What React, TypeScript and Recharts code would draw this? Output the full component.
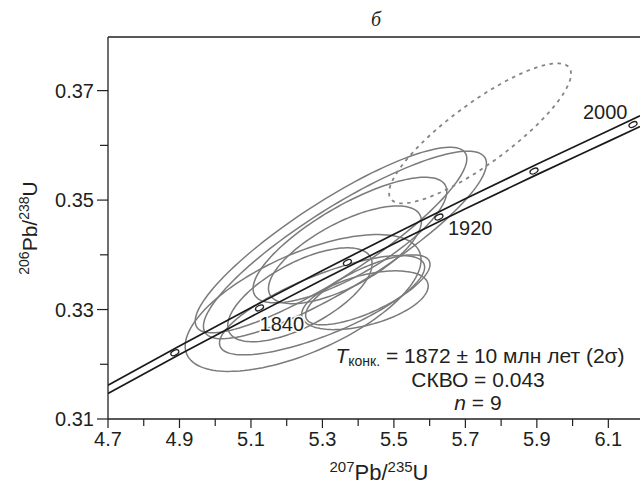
import React from 'react'
import { ScatterChart, Scatter, XAxis, YAxis, ReferenceLine } from 'recharts'

const X_MIN = 4.7
const X_MAX = 6.1886
const Y_MIN = 0.31
const Y_MAX = 0.3798

const xMajor = [4.7, 4.9, 5.1, 5.3, 5.5, 5.7, 5.9, 6.1]
const xMinor = [4.8, 5.0, 5.2, 5.4, 5.6, 5.8, 6.0]
const yMajor = [0.31, 0.33, 0.35, 0.37]
const yMinor = [0.32, 0.34, 0.36]

// concordia with its error band (two curves)
const concX = [4.7, 4.9, 5.1, 5.3, 5.5, 5.7, 5.9, 6.1, 6.1886]
const concUpper = [0.31618, 0.32335, 0.33034, 0.33715, 0.34377, 0.35023, 0.35653, 0.36267, 0.3654]
const concLower = [0.31466, 0.32177, 0.3287, 0.33545, 0.34201, 0.34841, 0.35465, 0.36073, 0.36342]

// age marks on the concordia, Ma
const ageT = [1800, 1840, 1880, 1920, 1960, 2000]
const ageX = [4.887, 5.124, 5.37, 5.626, 5.892, 6.169]
const ageY = [0.3221, 0.3303, 0.3386, 0.3469, 0.3553, 0.3638]
const ageShown = [1840, 1920, 2000]

// analyses: 207Pb/235U, 206Pb/238U, 2σ errors, rho
const spotX = [5.324, 5.363, 5.246, 5.377, 5.363, 5.299, 5.427, 5.419, 5.237, 5.741]
const spotY = [0.3427, 0.3418, 0.3312, 0.3427, 0.34, 0.3308, 0.3336, 0.3317, 0.3327, 0.3622]
const spotSx = [0.38, 0.396, 0.33, 0.271, 0.214, 0.287, 0.174, 0.177, 0.202, 0.2546]
const spotSy = [0.01695, 0.01713, 0.0125, 0.01147, 0.00893, 0.00908, 0.00639, 0.00537, 0.00858, 0.01279]
const spotRho = [0.876, 0.868, 0.63, 0.774, 0.687, 0.763, 0.727, 0.485, 0.657, 0.85]
const spotExcluded = [false, false, false, false, false, false, false, false, false, true]

const INK = '#231f20'
const FONT = '"Liberation Sans", Arial, sans-serif'

// centre, x-extreme point and vertical conjugate point of each error ellipse
const ellipseData = spotX.map((x, i) => [
  { x, y: spotY[i] },
  { x: x + spotSx[i], y: spotY[i] + spotRho[i] * spotSy[i] },
  { x, y: spotY[i] + spotSy[i] * Math.sqrt(1 - spotRho[i] * spotRho[i]) },
])

const upperData = concX.map((x, i) => ({ x, y: concUpper[i] }))
const lowerData = concX.map((x, i) => ({ x, y: concLower[i] }))
const ageData = ageT.map((t, i) => ({ x: ageX[i], y: ageY[i], t }))

const labelOffset: Record<number, [number, number]> = {
  1840: [0, 23],
  1920: [9, 18],
  2000: [-50, -6],
}

const Hidden = () => <g />

function ellipseLine(dashed: boolean) {
  return (props: any) => {
    const [c, u, v] = props.points
    const ux = u.x - c.x
    const uy = u.y - c.y
    const vx = v.x - c.x
    const vy = v.y - c.y
    let d = ''
    for (let k = 0; k <= 144; k++) {
      const a = (k / 144) * Math.PI * 2
      const px = c.x + ux * Math.cos(a) + vx * Math.sin(a)
      const py = c.y + uy * Math.cos(a) + vy * Math.sin(a)
      d += (k === 0 ? 'M' : 'L') + px.toFixed(2) + ',' + py.toFixed(2)
    }
    return (
      <path
        d={d + 'Z'}
        fill="none"
        stroke={dashed ? '#858585' : '#7b7b7b'}
        strokeWidth={dashed ? 1.8 : 1.5}
        strokeDasharray={dashed ? '3.5 4.5' : undefined}
      />
    )
  }
}

function AgeMark(props: any) {
  const { cx, cy, payload } = props
  const off = labelOffset[payload.t]
  return (
    <g>
      <ellipse
        cx={cx}
        cy={cy}
        rx={4.3}
        ry={2.4}
        transform={`rotate(-27 ${cx} ${cy})`}
        fill="#fff"
        stroke={INK}
        strokeWidth={1.3}
      />
      {ageShown.includes(payload.t) && off && (
        <text
          x={cx + off[0]}
          y={cy + off[1]}
          fontFamily={FONT}
          fontSize={20}
          fill={INK}
          stroke="#fff"
          strokeWidth={3}
          paintOrder="stroke"
        >
          {payload.t}
        </text>
      )}
    </g>
  )
}

function XTick(props: any) {
  const { x, y, payload } = props
  const major = xMajor.includes(payload.value)
  return (
    <g>
      <line x1={x} x2={x} y1={y} y2={y + (major ? 9 : 7)} stroke={INK} strokeWidth={1.2} />
      {major && (
        <text x={x} y={y + 13} dy="0.71em" textAnchor="middle" fontFamily={FONT} fontSize={20} fill={INK}>
          {payload.value.toFixed(1)}
        </text>
      )}
    </g>
  )
}

function YTick(props: any) {
  const { x, y, payload } = props
  const major = yMajor.includes(payload.value)
  return (
    <g>
      <line x1={x - (major ? 11 : 8)} x2={x} y1={y} y2={y} stroke={INK} strokeWidth={1.2} />
      {major && (
        <text x={x - 14} y={y} dy="0.36em" textAnchor="end" fontFamily={FONT} fontSize={20} fill={INK}>
          {payload.value.toFixed(2)}
        </text>
      )}
    </g>
  )
}

export default function App() {
  const xTicks = [...xMajor, ...xMinor].sort((a, b) => a - b)
  const yTicks = [...yMajor, ...yMinor].sort((a, b) => a - b)
  return (
    <div style={{ position: 'absolute', left: 0, top: 0, width: 640, height: 486, background: '#fff' }}>
      <ScatterChart width={640} height={486} margin={{ top: 37, right: 0, bottom: 0, left: 0 }}>
        <XAxis
          type="number"
          dataKey="x"
          domain={[X_MIN, X_MAX]}
          ticks={xTicks}
          interval={0}
          tick={<XTick />}
          tickSize={0}
          tickMargin={0}
          tickLine={false}
          axisLine={{ stroke: INK, strokeWidth: 1.3 }}
          height={67}
          allowDataOverflow
        />
        <YAxis
          type="number"
          dataKey="y"
          domain={[Y_MIN, Y_MAX]}
          ticks={yTicks}
          interval={0}
          tick={<YTick />}
          tickSize={0}
          tickMargin={0}
          tickLine={false}
          axisLine={{ stroke: INK, strokeWidth: 1.3 }}
          width={108}
          allowDataOverflow
        />
        <ReferenceLine y={Y_MAX} stroke={INK} strokeWidth={1.3} />
        {ellipseData.map((pts, i) => (
          <Scatter
            key={'e' + i}
            data={pts}
            line={ellipseLine(spotExcluded[i])}
            shape={Hidden}
            isAnimationActive={false}
          />
        ))}
        <Scatter
          data={upperData}
          line={{ stroke: '#1a1a1a', strokeWidth: 1.7 }}
          lineJointType="monotoneX"
          shape={Hidden}
          isAnimationActive={false}
        />
        <Scatter
          data={lowerData}
          line={{ stroke: '#1a1a1a', strokeWidth: 1.7 }}
          lineJointType="monotoneX"
          shape={Hidden}
          isAnimationActive={false}
        />
        <Scatter data={ageData} shape={AgeMark} isAnimationActive={false} />
      </ScatterChart>
      <svg
        width={640}
        height={486}
        style={{ position: 'absolute', left: 0, top: 0, pointerEvents: 'none' }}
      >
        <text x={376} y={26} textAnchor="middle" fontFamily='"Liberation Serif", serif' fontStyle="italic" fontSize={20} fill={INK}>
          б
        </text>
        <text x={379} y={480} textAnchor="middle" fontFamily={FONT} fontSize={22} fill={INK}>
          <tspan fontSize={15} dy={-8}>207</tspan>
          <tspan dy={8}>Pb/</tspan>
          <tspan fontSize={15} dy={-8}>235</tspan>
          <tspan dy={8}>U</tspan>
        </text>
        <text transform="translate(37,228) rotate(-90)" textAnchor="middle" fontFamily={FONT} fontSize={21} fill={INK}>
          <tspan fontSize={14} dy={-8}>206</tspan>
          <tspan dy={8}>Pb/</tspan>
          <tspan fontSize={14} dy={-8}>238</tspan>
          <tspan dy={8}>U</tspan>
        </text>
        <text x={480} y={363} textAnchor="middle" fontFamily={FONT} fontSize={21} fill={INK}>
          <tspan fontStyle="italic">T</tspan>
          <tspan fontSize={14} dy={3}>конк.</tspan>
          <tspan dy={-3}>{'\u00a0= 1872 ± 10 млн лет (2σ)'}</tspan>
        </text>
        <text x={478} y={387} textAnchor="middle" fontFamily={FONT} fontSize={21} fill={INK}>
          СКВО = 0.043
        </text>
        <text x={478} y={410} textAnchor="middle" fontFamily={FONT} fontSize={21} fill={INK}>
          <tspan fontStyle="italic">n</tspan>
          <tspan>{'\u00a0= 9'}</tspan>
        </text>
      </svg>
    </div>
  )
}
